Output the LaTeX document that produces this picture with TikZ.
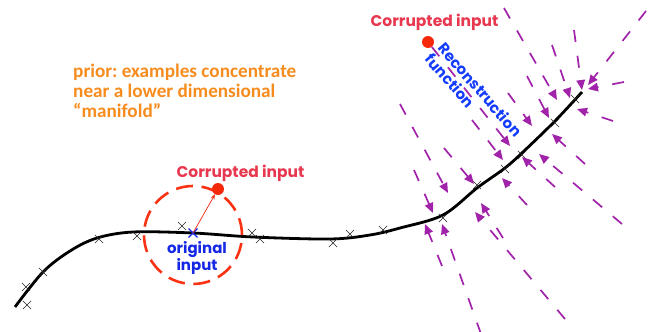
\documentclass[tikz,border=0pt]{standalone}
\usepackage{fontspec}
\setmainfont{Poppins}
\newfontfamily\calibfont{Carlito}
\usetikzlibrary{arrows.meta,shapes.misc}
\frenchspacing
\definecolor{corr}{RGB}{232,56,80}
\definecolor{dotred}{RGB}{245,40,10}
\definecolor{circred}{RGB}{250,50,20}
\definecolor{origblue}{RGB}{20,40,230}
\definecolor{recblue}{RGB}{20,60,255}
\definecolor{purp}{RGB}{160,35,170}
\definecolor{orng}{RGB}{247,140,30}
\begin{document}
\begin{tikzpicture}[x=1pt,y=-1pt,
  fld/.style={draw=purp,line width=1.7pt,dash pattern=on 12pt off 14pt,-{Triangle[length=10pt,width=8.5pt]}},
  xm/.style={cross out,draw=black!85,line width=0.7pt,minimum size=7.5pt,inner sep=0pt},
  ctext/.style={text=corr,font=\bfseries\fontsize{15.5}{18}\selectfont,inner sep=0pt},
  btext/.style={text=origblue,font=\bfseries\fontsize{15}{17}\selectfont,inner sep=0pt},
  rtext/.style={text=recblue,font=\bfseries\fontsize{15}{17}\selectfont,inner sep=0pt},
  otext/.style={text=orng,font=\calibfont\bfseries\frenchspacing\fontsize{19.2}{20}\selectfont,inner sep=0pt},
  reddot/.style={circle,fill=dotred,minimum size=12pt,inner sep=0pt},
  redarr/.style={draw=dotred,line width=0.7pt,-{Stealth[length=5pt,width=4pt]}}
]
\useasboundingbox (0,0) rectangle (649,332);
\fill[white] (0,0) rectangle (649,332);
% manifold curve
\draw[line width=2.8pt] plot[smooth,tension=0.55] coordinates {(15,307) (43,272) (70,251) (97,238) (133,232) (193,233) (253,237) (330,239) (370,235) (400,228) (443,215) (477,188) (505,168) (523,152) (555,121) (582,92)};
% examples
\foreach \i/\x/\y in {1/27/305,2/26/287,3/43/272,4/99/239,5/137/236,6/182/226,7/252/233,8/260/239,9/333/243,10/350/234,11/383/230,12/443/218,13/477/185,14/505/169,15/522/155,16/555/123,17/575/99}
  {\node[xm] (x\i) at (\x,\y) {};}
% vector field
\foreach \n/\sx/\sy/\ex/\ey in {
 a1/400/104/448/193, a2/414/170/433/213, a3/444/148/474/184, a4/472/120/503/160,
 a6/508/93/532/126, a7/527/76/549/118, a8/504/8/557/100, a9/552/45/570/98,
 a10/574/30/582/90, a11/646/11/588/85, a12/624/82/588/89, a13/613/121/577/109,
 b1/442/266/425/224, b2/481/334/442/224, b3/565/319/475/212, b4/503/238/481/203,
 b5/527/205/502/178, b6/555/187/522/157, b7/622/224/539/154, b8/585/164/552/134}
 {\coordinate (s\n) at (\sx,\sy); \coordinate (e\n) at (\ex,\ey); \draw[fld] (s\n) -- (e\n);}
% reconstruction arrow
\node[reddot] (rd2) at (428,42) {};
\coordinate (erec) at (510,146);
\draw[fld] (rd2) -- (erec);
% corrupted point near manifold
\node[circle,draw=circred,line width=2.6pt,dash pattern=on 17pt off 8.7pt,minimum size=98pt,inner sep=0pt] (ring) at (193,235) {};
\node[xm,draw=origblue,line width=1.3pt] (bx) at (193,233) {};
\node[reddot] (rd1) at (218,189) {};
\draw[redarr] (bx.center) -- (rd1);
% texts
\node[ctext,anchor=base] (c1) at (240.5,177) {Corrupted input};
\node[ctext,anchor=base] (c2) at (434.5,27) {Corrupted input};
\node[btext,anchor=base] (o1) at (197,253) {original};
\node[btext,anchor=base] (o2) at (197,270) {input};
\node[rtext,rotate=-49,align=left] (rf) at (474,95) {Reconstruction\\function};
\node[otext,anchor=base west] (p1) at (73,77) {prior: examples concentrate};
\node[otext,anchor=base west] (p2) at (73,97) {near a lower dimensional};
\node[otext,anchor=base west] (p3) at (73,117) {“manifold”};
\end{tikzpicture}
\end{document}
